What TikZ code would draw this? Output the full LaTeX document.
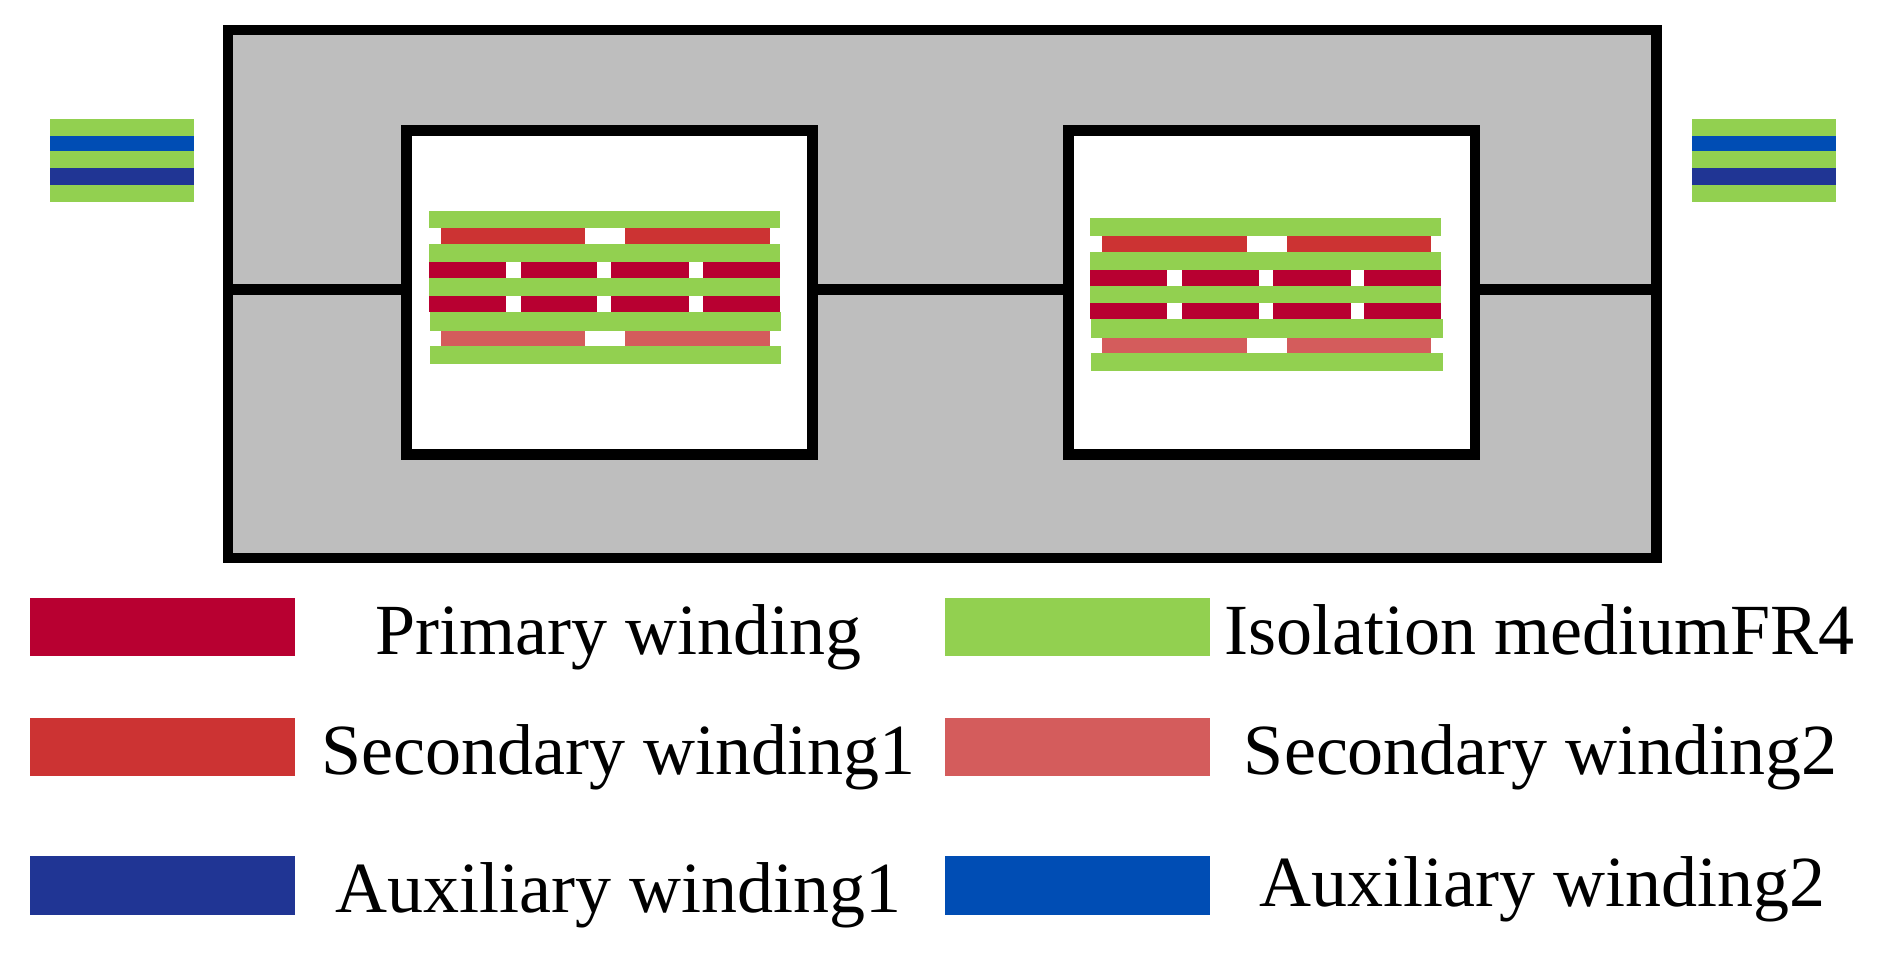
\documentclass[tikz,border=0pt]{standalone}
\usepackage{fontspec}
\setmainfont{Liberation Serif}
\definecolor{prim}{HTML}{B80031}
\definecolor{secA}{HTML}{CC3333}
\definecolor{secB}{HTML}{D45C5C}
\definecolor{fr}{HTML}{92D050}
\definecolor{auxA}{HTML}{203594}
\definecolor{auxB}{HTML}{004DB4}
\definecolor{core}{HTML}{BEBEBE}
\tikzset{frame/.style={line width=4.5pt,draw=black,line join=miter},
 lbl/.style={anchor=base,font=\fontsize{30}{35}\selectfont,inner sep=0pt}}
\newcommand{\wstack}[2]{%
\begin{scope}[shift={(#1,#2)}]
\fill[fr] (357.4,175.4) rectangle (650,190.3);
\fill[secA] (367.3,190.3) rectangle (487.8,203.6);
\fill[secA] (521,190.3) rectangle (641.6,203.6);
\fill[fr] (357.4,203.6) rectangle (650,218.6);
\foreach \y/\h in {218.6/231.9,246.8/260.1}{
 \fill[prim] (357.4,\y) rectangle (421.3,\h);
 \fill[prim] (433.8,\y) rectangle (497.8,\h);
 \fill[prim] (509.4,\y) rectangle (574.3,\h);
 \fill[prim] (585.9,\y) rectangle (650,\h);}
\fill[fr] (357.4,231.9) rectangle (650,246.8);
\fill[fr] (358.2,260.1) rectangle (651,275.9);
\fill[secB] (367.3,275.9) rectangle (487.8,288.4);
\fill[secB] (521,275.9) rectangle (641.6,288.4);
\fill[fr] (358.2,288.4) rectangle (651,303.3);
\end{scope}}
\newcommand{\sidestack}[1]{%
\begin{scope}[shift={(#1,0)}]
\fill[fr] (0,99) rectangle (120,113);
\fill[auxB] (0,113) rectangle (120,126);
\fill[fr] (0,126) rectangle (120,140);
\fill[auxA] (0,140) rectangle (120,154);
\fill[fr] (0,154) rectangle (120,168);
\end{scope}}
\begin{document}
\begin{tikzpicture}[x=0.5pt,y=-0.5pt]
\useasboundingbox (0,0) rectangle (1564,797);
\fill[core] (190,25) rectangle (1380,465);
\draw[frame] (190,25) rectangle (1380,465);
\fill[white] (339,108.5) rectangle (677,379);
\fill[white] (890,108.5) rectangle (1229,379);
\draw[frame] (190,241) -- (339,241);
\draw[frame] (677,241) -- (890,241);
\draw[frame] (1229,241) -- (1380,241);
\draw[frame] (339,108.5) rectangle (677,379);
\draw[frame] (890,108.5) rectangle (1229,379);
\wstack{0}{0}
\wstack{551}{6}
\sidestack{42}
\sidestack{1410}
% legend
\fill[prim] (25,498) rectangle (246,547);
\fill[secA] (25,598) rectangle (246,647);
\fill[auxA] (25,713) rectangle (246,762);
\fill[fr] (787,498) rectangle (1008,547);
\fill[secB] (787,598) rectangle (1008,647);
\fill[auxB] (787,713) rectangle (1008,762);
\node[lbl] (l1) at (515,545) {Primary winding};
\node[lbl] (l2) at (515,645) {Secondary winding1};
\node[lbl] (l3) at (515,760) {Auxiliary winding1};
\node[lbl] (l4) at (1283,545) {Isolation mediumFR4};
\node[lbl] (l5) at (1284,645) {Secondary winding2};
\node[lbl] (l6) at (1285,755) {Auxiliary winding2};
\end{tikzpicture}
\end{document}
